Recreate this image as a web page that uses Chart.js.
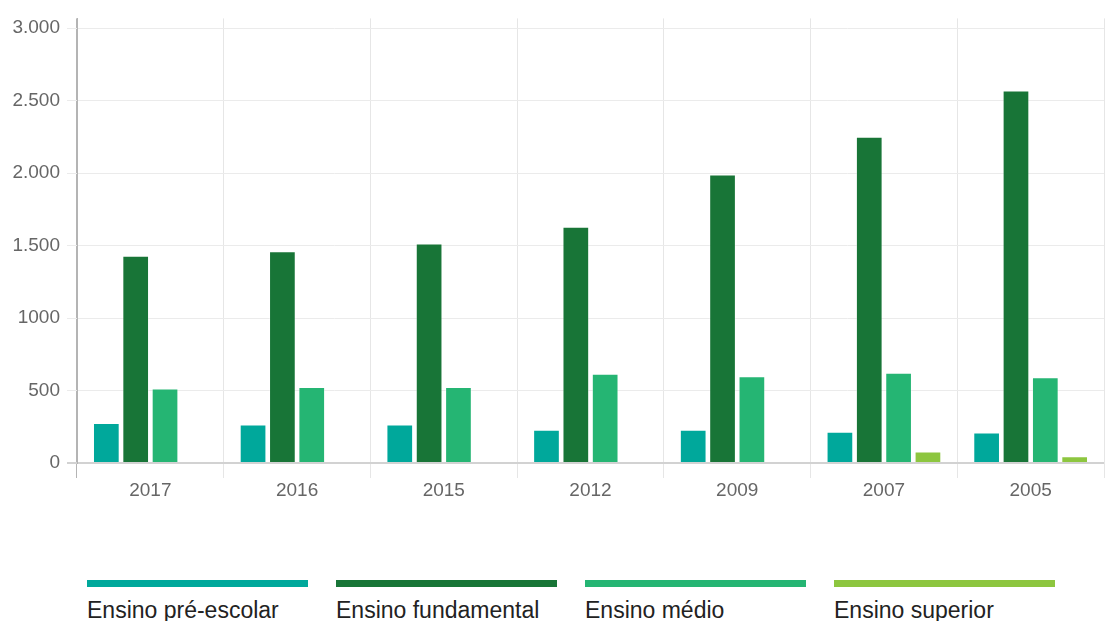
<!DOCTYPE html>
<html lang="pt-BR">
<head>
<meta charset="utf-8">
<title>Matrículas por nível de ensino</title>
<script src="https://cdn.jsdelivr.net/npm/chart.js@4.4.1/dist/chart.umd.min.js"></script>
<style>
  html, body { margin: 0; padding: 0; background: #fff; overflow: hidden; }
  #wrap { position: relative; width: 1119px; height: 621px; }
  #chart { position: absolute; left: 0; top: 0; }
  #legend {
    position: absolute; left: 87px; top: 580px;
    display: flex; gap: 28px; margin: 0; padding: 0; list-style: none;
  }
  #legend li { width: 221px; }
  #legend .swatch { height: 7px; }
  #legend .label {
    margin-top: 10px;
    font: 23px "Liberation Sans", Arial, sans-serif;
    color: #222;
    white-space: nowrap;
  }
</style>
</head>
<body>
<div id="wrap">
  <canvas id="chart" width="1119" height="530"></canvas>
  <ul id="legend"></ul>
</div>
<script>
// anos e matrículas por nível
const years = ['2017', '2016', '2015', '2012', '2009', '2007', '2005'];
const preEscolar = [276, 265, 265, 230, 230, 216, 211];
const fundamental = [1430, 1460, 1515, 1630, 1990, 2250, 2570];
const medio = [514, 525, 525, 615, 598, 623, 591];
const superior = [null, null, null, null, null, 80, 46];

const seriesNames = ['Ensino pré-escolar', 'Ensino fundamental', 'Ensino médio', 'Ensino superior'];
const seriesColors = ['#00a89b', '#187537', '#25b573', '#8dc63f'];

const yTickValues = [0, 500, 1000, 1500, 2000, 2500, 3000];
const yTickLabels = ['0', '500', '1000', '1.500', '2.000', '2.500', '3.000'];

const tickFont = { family: '"Liberation Sans", Arial, sans-serif', size: 19 };
const axisGray = '#b4b4b4';

const datasets = [preEscolar, fundamental, medio, superior].map((values, i) => ({
  label: seriesNames[i],
  data: values,
  backgroundColor: seriesColors[i],
  borderColor: 'rgba(255, 255, 255, 0.35)',
  borderWidth: 1,
  barPercentage: 0.91,
  categoryPercentage: 0.8
}));

const chart = new Chart(document.getElementById('chart'), {
  type: 'bar',
  data: { labels: years, datasets },
  options: {
    responsive: false,
    animation: false,
    events: [],
    layout: { padding: { top: 18, right: 15, bottom: 0, left: 0 } },
    plugins: {
      legend: { display: false },
      tooltip: { enabled: false }
    },
    scales: {
      x: {
        offset: true,
        afterFit: (scale) => { scale.height = 67; },
        border: { display: false },
        grid: {
          offset: true,
          tickLength: 15,
          color: (ctx) => {
            if (ctx.index === 0) return axisGray;
            if (ctx.index === years.length) return 'rgba(0, 0, 0, 0)';
            return '#e6e6e6';
          }
        },
        ticks: { padding: 1, color: '#666', font: tickFont }
      },
      y: {
        min: 0,
        max: 3067,
        afterBuildTicks: (scale) => { scale.ticks = yTickValues.map(v => ({ value: v })); },
        afterFit: (scale) => { scale.width = 77; },
        border: { display: true, color: axisGray, width: 1 },
        grid: {
          tickLength: 10,
          color: (ctx) => (ctx.tick && ctx.tick.value === 0 ? '#d2d2d2' : '#ebebeb'),
          lineWidth: (ctx) => (ctx.tick && ctx.tick.value === 0 ? 2 : 1)
        },
        ticks: {
          padding: 7,
          color: '#666',
          font: tickFont,
          callback: (value) => yTickLabels[yTickValues.indexOf(value)]
        }
      }
    }
  }
});

// legenda: barra colorida acima do nome de cada série
const legend = document.getElementById('legend');
chart.data.datasets.forEach((ds) => {
  const li = document.createElement('li');
  const swatch = document.createElement('div');
  swatch.className = 'swatch';
  swatch.style.background = ds.backgroundColor;
  const label = document.createElement('div');
  label.className = 'label';
  label.textContent = ds.label;
  li.appendChild(swatch);
  li.appendChild(label);
  legend.appendChild(li);
});
</script>
</body>
</html>
